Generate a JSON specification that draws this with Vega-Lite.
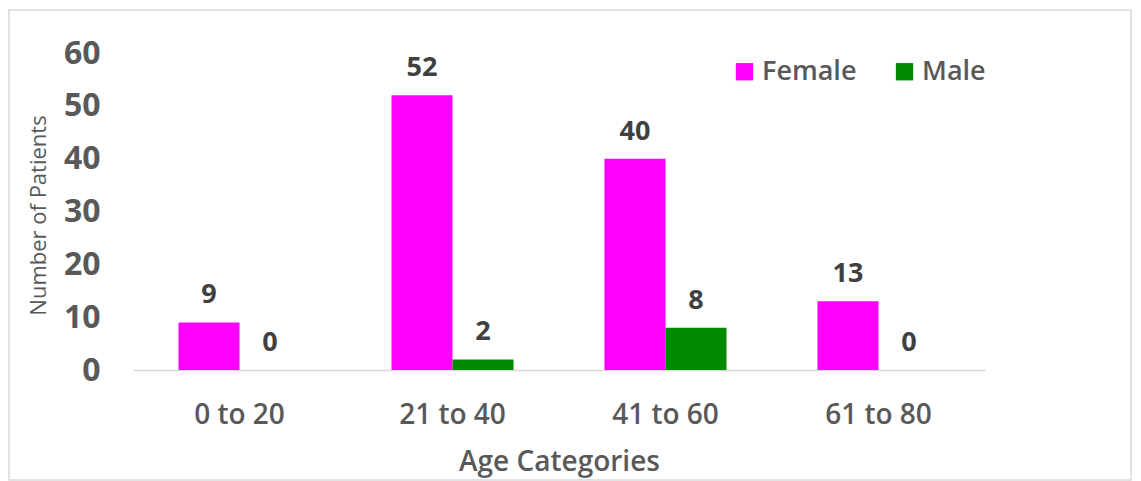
{
  "$schema": "https://vega.github.io/schema/vega-lite/v6.json",
  "autosize": {"type": "none"},
  "padding": {"left": 9, "top": 10, "right": 10, "bottom": 1},
  "width": 1122,
  "height": 470,
  "background": "white",
  "config": {
    "view": {"stroke": "#d9d9d9", "strokeWidth": 1.5},
    "font": "Open Sans"
  },
  "data": {
    "values": [
      {"age": "0 to 20", "sex": "Female", "patients": 9},
      {"age": "0 to 20", "sex": "Male", "patients": 0},
      {"age": "21 to 40", "sex": "Female", "patients": 52},
      {"age": "21 to 40", "sex": "Male", "patients": 2},
      {"age": "41 to 60", "sex": "Female", "patients": 40},
      {"age": "41 to 60", "sex": "Male", "patients": 8},
      {"age": "61 to 80", "sex": "Female", "patients": 13},
      {"age": "61 to 80", "sex": "Male", "patients": 0}
    ]
  },
  "encoding": {
    "x": {
      "field": "age",
      "type": "nominal",
      "sort": ["0 to 20", "21 to 40", "41 to 60", "61 to 80"],
      "scale": {"range": [124, 976], "paddingInner": 0.427, "paddingOuter": 0.2135},
      "axis": {
        "title": "Age Categories",
        "orient": "bottom",
        "offset": -110,
        "labelAngle": 0,
        "ticks": false,
        "tickSize": 0,
        "labelPadding": 53,
        "labelBaseline": "alphabetic",
        "labelFont": "Open Sans",
        "labelFontSize": 28,
        "labelFontWeight": 600,
        "labelColor": "#595959",
        "domainColor": "#d9d9d9",
        "domainWidth": 1.5,
        "grid": false,
        "titleFont": "Open Sans",
        "titleFontSize": 28,
        "titleFontWeight": 600,
        "titleColor": "#595959",
        "titleBaseline": "alphabetic",
        "titleY": 100
      }
    },
    "xOffset": {
      "field": "sex",
      "type": "nominal",
      "scale": {"domain": ["Female", "Male"], "paddingInner": 0, "paddingOuter": 0}
    },
    "y": {
      "field": "patients",
      "type": "quantitative",
      "scale": {"domain": [0, 60], "range": [360, 43], "nice": false, "zero": true},
      "axis": {
        "title": "Number of Patients",
        "orient": "left",
        "offset": -91,
        "values": [0, 10, 20, 30, 40, 50, 60],
        "domain": false,
        "ticks": false,
        "tickSize": 0,
        "grid": false,
        "labelPadding": 0,
        "labelFont": "Open Sans",
        "labelFontSize": 32,
        "labelFontWeight": "bold",
        "labelColor": "#595959",
        "titleFont": "Open Sans",
        "titleFontSize": 22,
        "titleFontWeight": "normal",
        "titleColor": "#595959",
        "titleAngle": -90,
        "titleAlign": "center",
        "titleBaseline": "middle",
        "titleX": -62,
        "titleY": 205
      }
    }
  },
  "layer": [
    {
      "mark": {"type": "bar"},
      "encoding": {
        "color": {
          "field": "sex",
          "type": "nominal",
          "scale": {"domain": ["Female", "Male"], "range": ["#ff00ff", "#008a00"]},
          "legend": {
            "title": null,
            "orient": "none",
            "direction": "horizontal",
            "legendX": 722,
            "legendY": 48,
            "padding": 0,
            "symbolType": "square",
            "symbolSize": 300,
            "symbolStrokeWidth": 0,
            "labelOffset": 4,
            "columnPadding": 34,
            "labelFont": "Open Sans",
            "labelFontSize": 27,
            "labelFontWeight": 600,
            "labelColor": "#595959"
          }
        }
      }
    },
    {
      "mark": {
        "type": "text",
        "baseline": "alphabetic",
        "dy": -19,
        "font": "Open Sans",
        "fontSize": 27,
        "fontWeight": "bold",
        "color": "#404040"
      },
      "encoding": {
        "text": {"field": "patients", "type": "quantitative"}
      }
    }
  ]
}
